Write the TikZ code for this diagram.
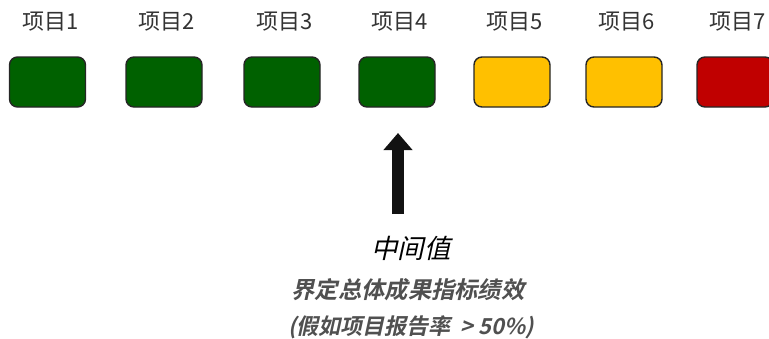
\documentclass[tikz,border=0pt]{standalone}
\usepackage{fontspec}
\usetikzlibrary{arrows.meta}
\newfontfamily\cjk{Noto Sans CJK SC}
\newfontfamily\cjkit{Noto Sans CJK SC}[FakeSlant=0.22]
\newfontfamily\cjkbi{Noto Sans CJK SC Bold}[FakeSlant=0.22]
\definecolor{kgreen}{HTML}{006100}
\definecolor{kyellow}{HTML}{FFC000}
\definecolor{kred}{HTML}{C00000}
\definecolor{labgray}{HTML}{333333}
\definecolor{txtgray}{HTML}{505050}
\tikzset{
  box/.style={draw=black!85, line width=1.4pt, rounded corners=8pt, minimum width=76pt, minimum height=50pt, inner sep=0pt},
  lab/.style={font=\cjk\fontsize{22}{24}\selectfont, text=labgray, inner sep=0pt, anchor=center},
}
\begin{document}
\begin{tikzpicture}[x=1pt,y=-1pt]
\useasboundingbox (0,0) rectangle (769,338);
\foreach \i/\x/\c in {1/47.5/kgreen, 2/164/kgreen, 3/282/kgreen, 4/397/kgreen, 5/512/kyellow, 6/624/kyellow, 7/735/kred}{
  \node[box, fill=\c] (b\i) at (\x,82) {};
  \node[lab] (l\i) at (\x+3,22) {项目\i};
}
\coordinate (abot) at (398,214);
\coordinate (atop) at (398,133);
\draw[-{Triangle[width=28pt,length=17pt]}, line width=12pt, draw=black!93, fill=black!93] (abot) -- (atop);
\node[font=\cjkit\fontsize{26.5}{28}\selectfont, text=black, inner sep=0pt] (t1) at (411,248) {中间值};
\node[font=\cjkbi\fontsize{23.3}{25}\selectfont, text=txtgray, inner sep=0pt] (t2) at (408,290) {界定总体成果指标绩效};
\node[font=\cjkbi\fontsize{22}{24}\selectfont, text=txtgray, inner sep=0pt] (t3) at (411,327) {(假如项目报告率 ~> 50\%)};
\end{tikzpicture}
\end{document}
